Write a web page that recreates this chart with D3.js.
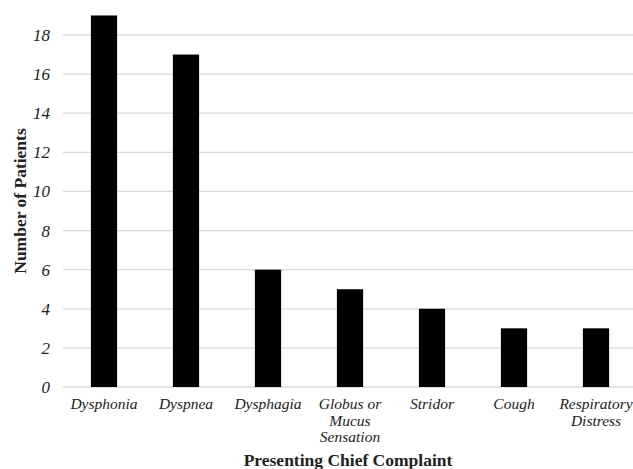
<!DOCTYPE html>
<html><head><meta charset="utf-8">
<script src="https://cdn.jsdelivr.net/npm/d3@7"></script>
<style>body{margin:0;background:#fff}</style>
</head><body>
<svg id="c" width="633" height="469"></svg>
<script>
const categories = [["Dysphonia"],["Dyspnea"],["Dysphagia"],["Globus or","Mucus","Sensation"],["Stridor"],["Cough"],["Respiratory","Distress"]];
const values = [19,17,6,5,4,3,3];
const yTicks = [0,2,4,6,8,10,12,14,16,18];

const svg = d3.select("#c");
const x = d3.scaleBand().domain(d3.range(categories.length)).range([63,637]).paddingInner(0.68).paddingOuter(0.34);
const y = d3.scaleLinear().domain([0,18]).range([387,35]);
const serif = "'Liberation Serif','Times New Roman',serif";

// gridlines
svg.append("g").selectAll("line").data(yTicks).join("line")
  .attr("x1",63).attr("x2",633).attr("y1",d=>y(d)).attr("y2",d=>y(d))
  .attr("stroke","#d9d9d9").attr("stroke-width",1.3);

// y tick labels
const yAxis = d3.axisLeft(y).tickValues(yTicks).tickSize(0).tickPadding(0);
const gy = svg.append("g").attr("transform","translate(50,0)").call(yAxis);
gy.select(".domain").remove();
gy.attr("font-family",serif).attr("font-size",17);
gy.selectAll("text").attr("font-style","italic").attr("fill","#222");

// bars
svg.append("g").selectAll("rect").data(values).join("rect")
  .attr("x",(d,i)=>x(i)).attr("width",x.bandwidth())
  .attr("y",d=>y(d)).attr("height",d=>y(0)-y(d)).attr("fill","#000");

// x labels
const gx = svg.append("g");
categories.forEach((lines,i)=>{
  const cx = x(i)+x.bandwidth()/2;
  const t = gx.append("text").attr("x",cx).attr("y",409)
    .attr("text-anchor","middle").attr("font-family",serif).attr("font-style","italic")
    .attr("font-size",15.5).attr("fill","#222");
  lines.forEach((l,j)=>t.append("tspan").attr("x",cx).attr("dy",j===0?0:16.5).text(l));
});

// axis titles
svg.append("text").attr("x",348).attr("y",466).attr("text-anchor","middle")
  .attr("font-family",serif).attr("font-weight","bold").attr("font-size",17.5).attr("fill","#222")
  .text("Presenting Chief Complaint");
svg.append("text").attr("transform","translate(26,201) rotate(-90)").attr("text-anchor","middle")
  .attr("font-family",serif).attr("font-weight","bold").attr("font-size",17.5).attr("fill","#222")
  .text("Number of Patients");
</script>
</body></html>
